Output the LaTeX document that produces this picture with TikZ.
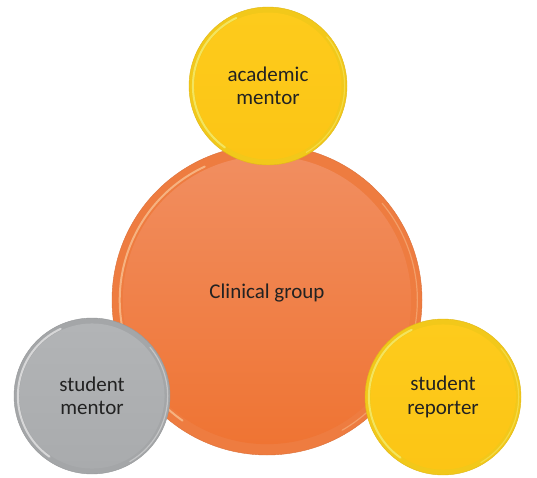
\documentclass[tikz,border=0pt]{standalone}
\usepackage{fontspec}
\setmainfont{Carlito}
\definecolor{txt}{HTML}{222222}
\definecolor{orrim}{HTML}{EE7C40}
\definecolor{ortop}{HTML}{F18E60}
\definecolor{orbot}{HTML}{EF7433}
\definecolor{orhi}{HTML}{F8C090}
\definecolor{yerim}{HTML}{F2C81A}
\definecolor{yetop}{HTML}{FDCB1C}
\definecolor{yebot}{HTML}{FCC515}
\definecolor{yehi}{HTML}{F4EC70}
\definecolor{grrim}{HTML}{A4A6A8}
\definecolor{grtop}{HTML}{B2B4B6}
\definecolor{grbot}{HTML}{A9ABAD}
\definecolor{grhi}{HTML}{E4E4E4}
\tikzset{
  lbl/.style={text=txt, font=\fontsize{21}{23.5}\selectfont},
  disc/.style n args={5}{circle, inner sep=0pt, minimum size=2*#1,
    fill=#2, draw=#2!92!black, line width=0.4pt, align=center, lbl,
    path picture={
      \coordinate (pc) at (path picture bounding box.center);
      \shade[top color=#3, bottom color=#4] (pc) circle ({0.93*#1});
      \draw[#5, opacity=0.8, line width=2pt, line cap=round]
        ([shift={(115:0.95*#1)}]pc) arc (115:235:0.95*#1);
      \draw[#5, opacity=0.5, line width=1.2pt, line cap=round]
        ([shift={(-60:0.97*#1)}]pc) arc (-60:40:0.97*#1);
    }}
}
\begin{document}
\begin{tikzpicture}[x=1pt,y=1pt]
\useasboundingbox (0,0) rectangle (537,477);
\node[disc={155pt}{orrim}{ortop}{orbot}{orhi}] (cg) at (267,177) {};
\node[lbl] (cgt) at (267,184) {Clinical group};
\node[disc={79pt}{yerim}{yetop}{yebot}{yehi}] (am) at (268,391) {academic\\mentor};
\node[disc={78pt}{grrim}{grtop}{grbot}{grhi}] (sm) at (92,81) {student\\mentor};
\node[disc={78pt}{yerim}{yetop}{yebot}{yehi}] (sr) at (443,80) {student\\reporter};
\end{tikzpicture}
\end{document}
